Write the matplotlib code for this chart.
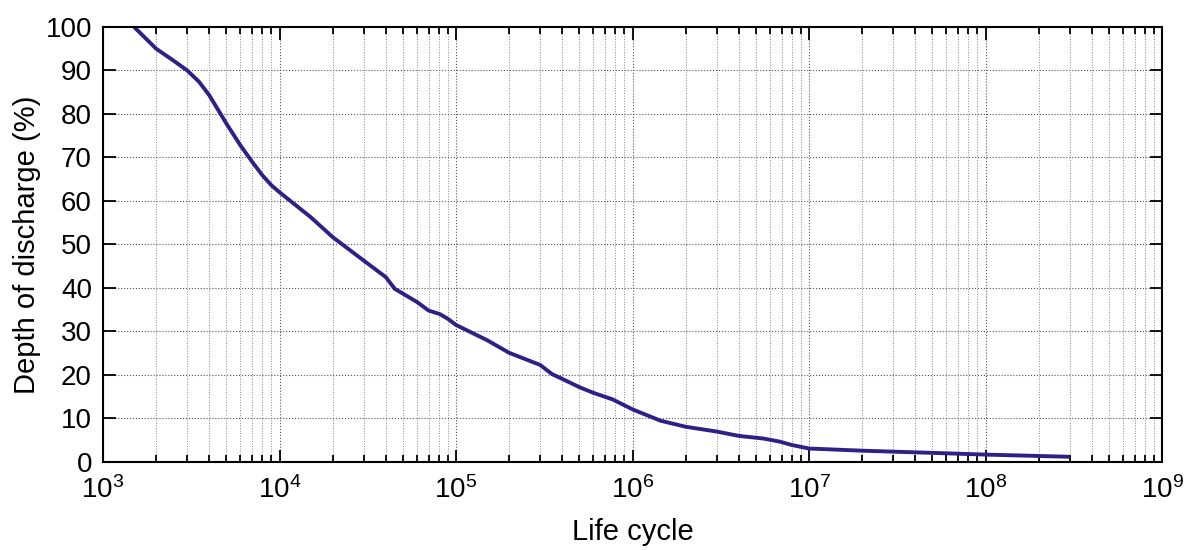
import numpy as np
import matplotlib.pyplot as plt
from matplotlib.ticker import LogLocator, FixedLocator

plt.rcParams["font.family"] = ["Liberation Sans", "DejaVu Sans"]
plt.rcParams["mathtext.fontset"] = "custom"
plt.rcParams["mathtext.rm"] = "Liberation Sans"

# curve: life cycles vs depth of discharge (%)
cycles = [1.5e3, 2e3, 2.5e3, 3e3, 3.5e3, 4e3, 5e3, 6e3, 7e3, 8e3, 9e3, 1e4,
          1.5e4, 2e4, 3e4, 4e4, 4.5e4, 5e4, 6e4, 7e4, 8.1e4, 9e4, 1e5, 1.5e5,
          2e5, 3e5, 3.5e5, 4e5, 5e5, 6e5, 7.7e5, 1e6, 1.44e6, 2e6, 3e6, 4e6,
          5.5e6, 6.8e6, 8e6, 1e7, 2e7, 5e7, 1e8, 3e8]
dod = [100, 95.0, 92.3, 90.0, 87.4, 84.3, 77.8, 72.8, 69.0, 65.9, 63.6, 62.0,
       56.3, 51.7, 46.3, 42.5, 39.8, 38.7, 36.8, 34.8, 34.0, 32.9, 31.5, 28,
       25.1, 22.3, 20.2, 19.1, 17.2, 15.9, 14.4, 12.1, 9.5, 8.1, 7.0, 6.0,
       5.4, 4.7, 3.9, 3.1, 2.6, 2.1, 1.7, 1.2]

xticks = [1e3, 1e4, 1e5, 1e6, 1e7, 1e8, 1e9]
yticks = list(range(0, 101, 10))

fig = plt.figure(figsize=(11.95, 5.5), dpi=100)
ax = fig.add_axes([0.0862, 0.16, 0.8862, 0.791])

ax.plot(cycles, dod, color="#2d2188", lw=2.8, solid_capstyle="butt",
        solid_joinstyle="round")

ax.set_xscale("log")
ax.set_xlim(1e3, 1e9)
ax.set_ylim(0, 100)
ax.xaxis.set_major_locator(FixedLocator(xticks))
ax.xaxis.set_minor_locator(LogLocator(base=10, subs=np.arange(2, 10)))
ax.set_yticks(yticks)

ax.grid(True, which="major", axis="both", color="#555555", ls=":", lw=0.8)
ax.grid(True, which="minor", axis="x", color="#888888", ls=":", lw=0.7)

ax.tick_params(which="both", direction="in", top=True, right=True,
               labelsize=20, width=1.3)
ax.tick_params(which="major", length=9)
ax.tick_params(which="minor", length=5)
ax.tick_params(axis="x", which="major", pad=10)
ax.tick_params(axis="y", which="major", pad=8)
for s in ax.spines.values():
    s.set_linewidth(1.5)

ax.set_xlabel("Life cycle", fontsize=21, labelpad=10)
ax.set_ylabel("Depth of discharge (%)", fontsize=21, labelpad=3)

fig.savefig("out.png", dpi=100)
